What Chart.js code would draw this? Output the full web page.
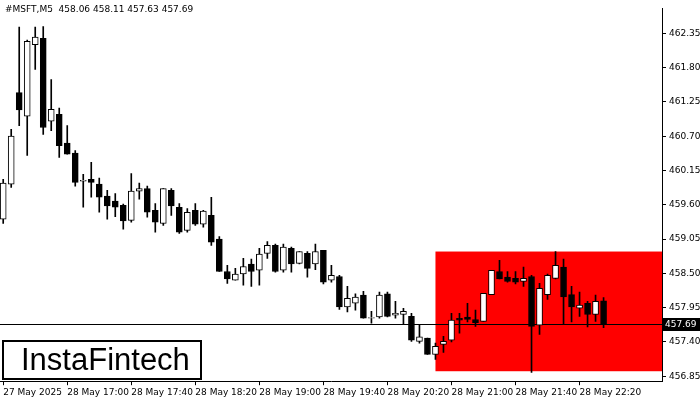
<!DOCTYPE html>
<html>
<head>
<meta charset="utf-8">
<script src="https://cdn.jsdelivr.net/npm/chart.js@4.4.0/dist/chart.umd.min.js"></script>
<style>
  html, body { margin: 0; padding: 0; background: #fff; }
  #wrap { width: 700px; height: 400px; position: relative; }
</style>
</head>
<body>
<div id="wrap"><canvas id="chart"></canvas></div>
<script>
// MSFT M5 candles
const opens  = [459.37,459.93,461.40,461.02,462.17,462.27,460.94,461.05,460.59,460.43,459.98,460.01,459.93,459.74,459.66,459.59,459.35,459.82,459.86,459.51,459.30,459.83,459.56,459.19,459.51,459.29,459.43,459.05,458.53,458.39,458.49,458.65,458.55,458.82,458.95,458.55,458.90,458.66,458.82,458.65,458.87,458.39,458.45,457.96,458.02,458.15,457.78,457.80,458.17,457.83,457.84,457.81,457.41,457.46,457.20,457.36,457.43,457.78,457.80,457.76,457.73,458.16,458.53,458.44,458.42,458.37,458.45,457.67,458.16,458.42,458.60,458.16,457.94,458.02,457.84,458.06];
const closes = [459.95,460.70,461.12,462.22,462.29,460.84,461.13,460.55,460.41,459.96,459.98,459.96,459.72,459.58,459.56,459.34,459.82,459.86,459.48,459.32,459.86,459.58,459.16,459.48,459.29,459.50,459.00,458.53,458.41,458.49,458.61,458.53,458.81,458.95,458.53,458.92,458.65,458.85,458.58,458.85,458.36,458.47,457.96,458.10,458.12,457.78,457.78,458.15,457.81,457.86,457.89,457.43,457.48,457.20,457.33,457.41,457.75,457.75,457.76,457.71,458.18,458.55,458.41,458.37,458.36,458.42,457.65,458.26,458.47,458.63,458.12,457.96,457.99,457.84,458.05,457.69];
const highs  = [460.01,460.81,462.45,462.24,462.45,462.46,461.61,461.15,460.87,460.47,460.09,460.28,460.03,459.83,459.78,459.61,460.10,459.95,459.90,459.62,459.86,459.86,459.62,459.54,459.62,459.51,459.72,459.09,458.63,458.58,458.74,458.73,458.90,459.01,458.97,458.97,458.92,458.85,458.85,458.97,458.87,458.63,458.47,458.29,458.17,458.21,457.89,458.20,458.20,458.05,457.94,457.86,457.68,457.46,457.38,457.49,457.86,457.86,458.02,457.91,458.18,458.55,458.71,458.53,458.53,458.60,458.47,458.34,458.49,458.85,458.73,458.29,458.20,458.05,458.15,458.11];
const lows   = [459.30,459.88,460.87,460.39,461.77,460.73,460.79,460.36,460.41,459.90,459.56,459.72,459.48,459.37,459.41,459.21,459.32,459.69,459.40,459.16,459.27,459.43,459.14,459.16,459.27,459.24,458.95,458.53,458.34,458.39,458.31,458.29,458.31,458.74,458.52,458.52,458.52,458.65,458.44,458.56,458.33,458.36,457.92,457.88,457.91,457.78,457.70,457.78,457.80,457.78,457.68,457.41,457.38,457.20,457.12,457.23,457.40,457.54,457.72,457.65,457.73,458.16,458.41,458.36,458.33,458.29,456.91,457.52,458.08,458.41,457.68,457.72,457.81,457.64,457.73,457.63];

const xTickIdx = [0, 8, 16, 24, 32, 40, 48, 56, 64, 72];
const xTickLabels = ['27 May 2025', '28 May 17:00', '28 May 17:40', '28 May 18:20', '28 May 19:00',
  '28 May 19:40', '28 May 20:20', '28 May 21:00', '28 May 21:40', '28 May 22:20'];
const yTicks = [456.85, 457.40, 457.95, 458.50, 459.05, 459.60, 460.15, 460.70, 461.25, 461.80, 462.35];

const lastPrice = 457.69;
const boxStart = 54, boxTop = 458.85, boxBottom = 456.93;
const titleText = '#MSFT,M5  458.06 458.11 457.63 457.69';

const bodies = opens.map((o, i) => {
  let c = closes[i];
  if (Math.abs(c - o) < 0.01) c = o + 0.012;
  return { x: i, y: [o, c] };
});
const wicks = highs.map((h, i) => ({ x: i, y: [lows[i], h] }));
const bodyColors = opens.map((o, i) => closes[i] >= o ? '#ffffff' : '#000000');

const overlay = {
  id: 'overlay',
  beforeDatasetsDraw(chart) {
    const { ctx, chartArea, scales } = chart;
    const x0 = scales.x.getPixelForValue(boxStart);
    const yT = scales.y.getPixelForValue(boxTop);
    const yB = scales.y.getPixelForValue(boxBottom);
    ctx.save();
    ctx.fillStyle = '#ff0000';
    ctx.fillRect(x0, yT, chartArea.right - x0, yB - yT);
    const yl = Math.round(scales.y.getPixelForValue(lastPrice)) + 0.5;
    ctx.strokeStyle = '#000';
    ctx.lineWidth = 1;
    ctx.beginPath();
    ctx.moveTo(chartArea.left, yl);
    ctx.lineTo(chartArea.right, yl);
    ctx.stroke();
    ctx.restore();
  },
  afterDraw(chart) {
    const { ctx, chartArea, scales } = chart;
    ctx.save();
    // title
    ctx.fillStyle = '#000';
    ctx.font = '9px "DejaVu Sans"';
    ctx.textBaseline = 'middle';
    ctx.fillText(titleText, 5, 10);
    // last price tag
    const yl = Math.round(scales.y.getPixelForValue(lastPrice));
    ctx.fillStyle = '#000';
    ctx.fillRect(chartArea.right, yl - 6, 38, 13);
    ctx.fillStyle = '#fff';
    ctx.fillText(lastPrice.toFixed(2), chartArea.right + 3, yl + 1);
    // logo
    ctx.fillStyle = '#fff';
    ctx.fillRect(3, 341, 198, 38);
    ctx.strokeStyle = '#000';
    ctx.lineWidth = 2;
    ctx.strokeRect(3, 341, 198, 38);
    ctx.fillStyle = '#000';
    ctx.font = '31px "Liberation Sans"';
    ctx.fillText('InstaFintech', 21, 361);
    ctx.restore();
  }
};

new Chart(document.getElementById('chart'), {
  type: 'bar',
  data: {
    datasets: [
      { data: wicks, backgroundColor: '#000', barThickness: 1, grouped: false, order: 2 },
      { data: bodies, backgroundColor: bodyColors, borderColor: '#000', borderWidth: 1,
        borderSkipped: false, barThickness: 6, grouped: false, order: 1 }
    ]
  },
  options: {
    responsive: true,
    maintainAspectRatio: false,
    animation: false,
    layout: { padding: 0 },
    plugins: { legend: { display: false }, tooltip: { enabled: false } },
    scales: {
      x: {
        type: 'linear',
        offset: false,
        min: -0.4,
        max: 82.3,
        afterBuildTicks(scale) { scale.ticks = xTickIdx.map(v => ({ value: v })); },
        ticks: {
          autoSkip: false, maxRotation: 0, align: 'start', color: '#000',
          font: { family: 'DejaVu Sans', size: 9 }, padding: 2,
          callback: v => xTickLabels[xTickIdx.indexOf(v)]
        },
        grid: { drawOnChartArea: false, tickLength: 4, color: '#000', offset: false },
        border: { color: '#000' }
      },
      y: {
        position: 'right',
        min: 456.77,
        max: 462.75,
        afterBuildTicks(scale) { scale.ticks = yTicks.map(v => ({ value: v })); },
        afterFit(scale) { scale.width = 38; },
        ticks: {
          color: '#000', font: { family: 'DejaVu Sans', size: 9 }, padding: 3,
          callback: v => v.toFixed(2)
        },
        grid: { drawOnChartArea: false, tickLength: 4, color: '#000' },
        border: { color: '#000' }
      }
    }
  },
  plugins: [overlay]
});
</script>
</body>
</html>
